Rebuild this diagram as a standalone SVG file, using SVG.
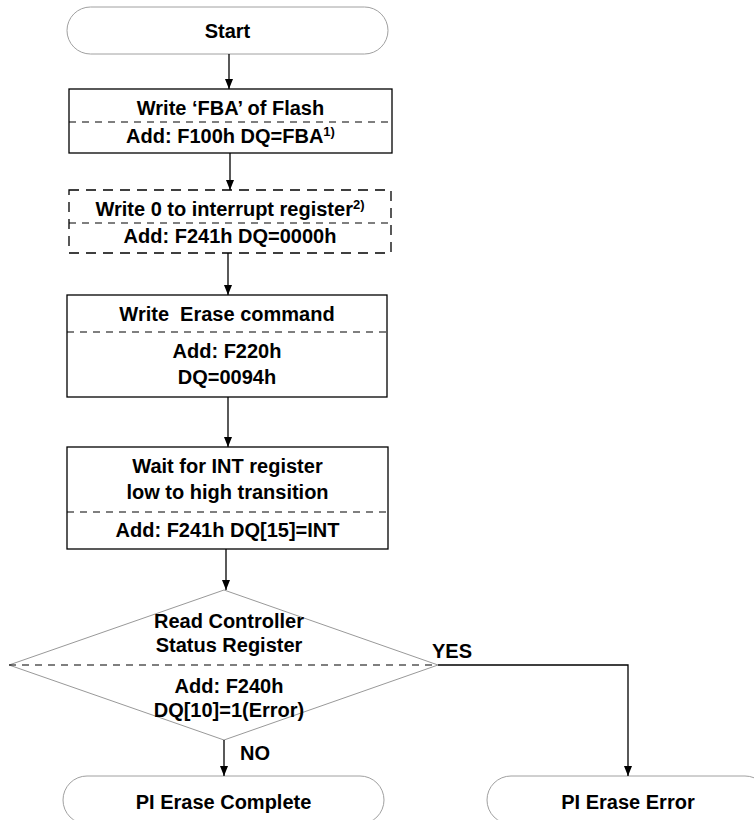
<svg xmlns="http://www.w3.org/2000/svg" width="754" height="820" viewBox="0 0 754 820">
<defs>
<marker id="ah" markerUnits="userSpaceOnUse" markerWidth="10" markerHeight="8" refX="10" refY="4" orient="auto">
<path d="M0,0 L10,4 L0,8 z" fill="#000"/>
</marker>
</defs>
<style>
.t{font-family:"Liberation Sans",Arial,sans-serif;font-weight:bold;font-size:20px;fill:#000;text-anchor:middle}
.l{text-anchor:start}
.sup{font-size:13px}
.term{fill:#fff;stroke:#a0a0a0;stroke-width:1}
.box{fill:#fff;stroke:#000;stroke-width:1.3}
.dbox{fill:#fff;stroke:#000;stroke-width:1.3;stroke-dasharray:10 7}
.div{stroke:#000;stroke-width:1.2;stroke-dasharray:7 6;fill:none}
.dia{fill:#fff;stroke:#999;stroke-width:1}
.conn{stroke:#000;stroke-width:1.3;fill:none;marker-end:url(#ah)}
</style>
<rect x="0" y="0" width="754" height="820" fill="#fff"/>

<g id="start">
<rect class="term" x="67" y="7" width="321" height="47" rx="23.5"/>
<text class="t" x="227.5" y="38">Start</text>
</g>

<g id="write-fba">
<rect class="box" x="69" y="89" width="323" height="64"/>
<line class="div" x1="69" y1="122" x2="392" y2="122"/>
<text class="t" x="230.5" y="115">Write ‘FBA’ of Flash</text>
<text class="t" x="230.5" y="143">Add: F100h DQ=FBA<tspan class="sup" dy="-7">1)</tspan></text>
</g>

<g id="write-int">
<rect class="dbox" x="69" y="190" width="322" height="63"/>
<line class="div" x1="69" y1="223" x2="391" y2="223"/>
<text class="t" x="230" y="216">Write 0 to interrupt register<tspan class="sup" dy="-7">2)</tspan></text>
<text class="t" x="230" y="243">Add: F241h DQ=0000h</text>
</g>

<g id="erase-cmd">
<rect class="box" x="67" y="295" width="320" height="102"/>
<line class="div" x1="67" y1="332" x2="387" y2="332"/>
<text class="t" x="227" y="321" xml:space="preserve">Write  Erase command</text>
<text class="t" x="227" y="358">Add: F220h</text>
<text class="t" x="227" y="384">DQ=0094h</text>
</g>

<g id="wait-int">
<rect class="box" x="67" y="447" width="321" height="102"/>
<line class="div" x1="67" y1="512" x2="388" y2="512"/>
<text class="t" x="227.5" y="473">Wait for INT register</text>
<text class="t" x="227.5" y="499">low to high transition</text>
<text class="t" x="227.5" y="537">Add: F241h DQ[15]=INT</text>
</g>

<g id="read-status">
<polygon class="dia" points="224,590 438,665 224,740 9,665"/>
<line class="div" x1="9" y1="665" x2="438" y2="665"/>
<text class="t" x="229" y="628">Read Controller</text>
<text class="t" x="229" y="652">Status Register</text>
<text class="t" x="229" y="693">Add: F240h</text>
<text class="t" x="229" y="717">DQ[10]=1(Error)</text>
</g>

<g id="complete">
<rect class="term" x="63" y="776" width="321" height="48" rx="24"/>
<text class="t" x="223.5" y="809">PI Erase Complete</text>
</g>

<g id="error">
<rect class="term" x="487" y="776" width="282" height="48" rx="24"/>
<text class="t" x="628" y="809">PI Erase Error</text>
</g>

<g id="connectors">
<line class="conn" x1="229" y1="54" x2="229" y2="89"/>
<line class="conn" x1="230" y1="153" x2="230" y2="190"/>
<line class="conn" x1="228" y1="253" x2="228" y2="295"/>
<line class="conn" x1="228" y1="397" x2="228" y2="447"/>
<line class="conn" x1="226" y1="549" x2="226" y2="590"/>
<line class="conn" x1="224" y1="740" x2="224" y2="776"/>
<polyline class="conn" points="438,665 628,665 628,776"/>
<text class="t l" x="432" y="658">YES</text>
<text class="t l" x="240" y="760">NO</text>
</g>
</svg>
